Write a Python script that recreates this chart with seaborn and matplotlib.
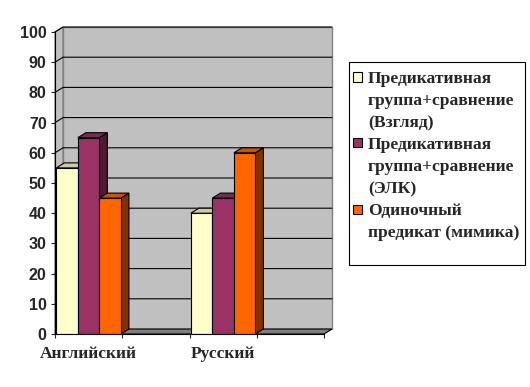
import seaborn as sns
import pandas as pd
import matplotlib.pyplot as plt
from matplotlib.patches import Polygon, Rectangle
from matplotlib.transforms import IdentityTransform
import matplotlib.colors as mcolors
import numpy as np

languages = ['Английский', 'Русский']
series = ['Предикативная\nгруппа+сравнение\n(Взгляд)',
          'Предикативная\nгруппа+сравнение\n(ЭЛК)',
          'Одиночный\nпредикат (мимика)']
vzglyad = [55, 40]
elk = [65, 45]
mimika = [45, 60]
colors = ['#FFFFCC', '#993366', '#FF6600']

rows = []
for s, vals in zip(series, [vzglyad, elk, mimika]):
    for lang, v in zip(languages, vals):
        rows.append({'Язык': lang, 'Серия': s, 'Значение': v})
df = pd.DataFrame(rows)

sns.set_style('white')
plt.rcParams['font.family'] = ['Liberation Serif', 'DejaVu Serif']
SERIF = ['Liberation Serif', 'DejaVu Serif']

fig = plt.figure(figsize=(5.3, 3.87), dpi=100)
ax = fig.add_axes([55 / 530, 53 / 387, 269 / 530, 302 / 387])
ax.set_facecolor('none')

sns.barplot(data=df, x='Язык', y='Значение', hue='Серия', palette=colors,
            saturation=1, width=0.48, gap=0, edgecolor='black', linewidth=0.8,
            legend=False, ax=ax, zorder=5)

ax.set_xlim(-0.25, 1.75)
ax.set_ylim(0, 100)
ax.set_xlabel('')
ax.set_ylabel('')

dx, dy = 8, 5  # depth offset in pixels

def disp(x, y):
    return ax.transData.transform((x, y))

x0, x1 = ax.get_xlim()

# back wall
bl = disp(x0, 0) + [dx, dy]
br = disp(x1, 0) + [dx, dy]
tr = disp(x1, 100) + [dx, dy]
tl = disp(x0, 100) + [dx, dy]
ax.add_patch(Polygon([bl, br, tr, tl], closed=True, facecolor='#C0C0C0',
                     edgecolor='#808080', linewidth=1, transform=IdentityTransform(),
                     clip_on=False, zorder=0))
# left wall
fl = disp(x0, 0)
ftl = disp(x0, 100)
ax.add_patch(Polygon([fl, bl, tl, ftl], closed=True, facecolor='#C0C0C0',
                     edgecolor='#808080', linewidth=1, transform=IdentityTransform(),
                     clip_on=False, zorder=0.5))
# floor
fr = disp(x1, 0)
ax.add_patch(Polygon([fl, fr, br, bl], closed=True, facecolor='#808080',
                     edgecolor='black', linewidth=0.8, transform=IdentityTransform(),
                     clip_on=False, zorder=1))

# gridlines: front axis -> back wall -> right
for yv in range(10, 101, 10):
    a = disp(x0, yv)
    b = a + [dx, dy]
    c = disp(x1, yv) + [dx, dy]
    ax.plot([a[0], b[0], c[0]], [a[1], b[1], c[1]], color='black', lw=0.8,
            transform=IdentityTransform(), clip_on=False, zorder=2)

# 3D faces of bars
bars = [p for cont in ax.containers for p in cont]
bars.sort(key=lambda p: p.get_x())
for i, p in enumerate(bars):
    fc = np.array(mcolors.to_rgb(p.get_facecolor()))
    x, w, h = p.get_x(), p.get_width(), p.get_height()
    p1 = disp(x + w, 0); p2 = disp(x + w, h); p3 = disp(x, h)
    z = 5 + i * 0.1
    p.set_zorder(z + 0.05)
    side = [p1, p1 + [dx, dy], p2 + [dx, dy], p2]
    top = [p3, p2, p2 + [dx, dy], p3 + [dx, dy]]
    ax.add_patch(Polygon(side, closed=True, facecolor=fc * 0.5, edgecolor='black',
                         linewidth=0.8, transform=IdentityTransform(), clip_on=False, zorder=z))
    ax.add_patch(Polygon(top, closed=True, facecolor=fc * 0.8, edgecolor='black',
                         linewidth=0.8, transform=IdentityTransform(), clip_on=False, zorder=z + 0.06))

sns.despine(ax=ax, top=True, right=True)
for s in ['left', 'bottom']:
    ax.spines[s].set_color('black')
    ax.spines[s].set_zorder(10)

ax.set_yticks(range(0, 101, 10))
ax.tick_params(axis='y', length=3, width=0.8, direction='out', left=True, pad=3)
for t in ax.get_yticklabels():
    t.set_fontfamily('Liberation Sans')
    t.set_fontweight('bold')
    t.set_fontsize(11.5)
ax.set_xticks([0, 1])
ax.set_xticks([-0.25, 0.25, 0.75, 1.25, 1.75], minor=True)
ax.tick_params(axis='x', which='major', length=0, pad=8.5)
ax.tick_params(axis='x', which='minor', length=3, width=0.8, direction='out', bottom=True)
for t in ax.get_xticklabels():
    t.set_fontfamily(SERIF)
    t.set_fontweight('bold')
    t.set_fontsize(12.5)

# legend box drawn in figure pixels
W, H = 530, 387
def fx(px):
    return px / W
def fy(py):
    return 1 - py / H

fig.patches.append(Rectangle((fx(349), fy(265)), (525 - 349) / W, (265 - 62) / H,
                             transform=fig.transFigure, facecolor='white',
                             edgecolor='black', linewidth=0.8))
line_y = 77
for c, label in zip(colors, series):
    fig.patches.append(Rectangle((fx(353), fy(line_y + 4.5)), 9 / W, 9 / H,
                                 transform=fig.transFigure, facecolor=c,
                                 edgecolor='black', linewidth=0.8))
    for line in label.split('\n'):
        fig.text(fx(368), fy(line_y), line, ha='left', va='center_baseline',
                 fontsize=12.6, fontweight='bold', family=SERIF)
        line_y += 22

fig.savefig('out.png', dpi=100)
